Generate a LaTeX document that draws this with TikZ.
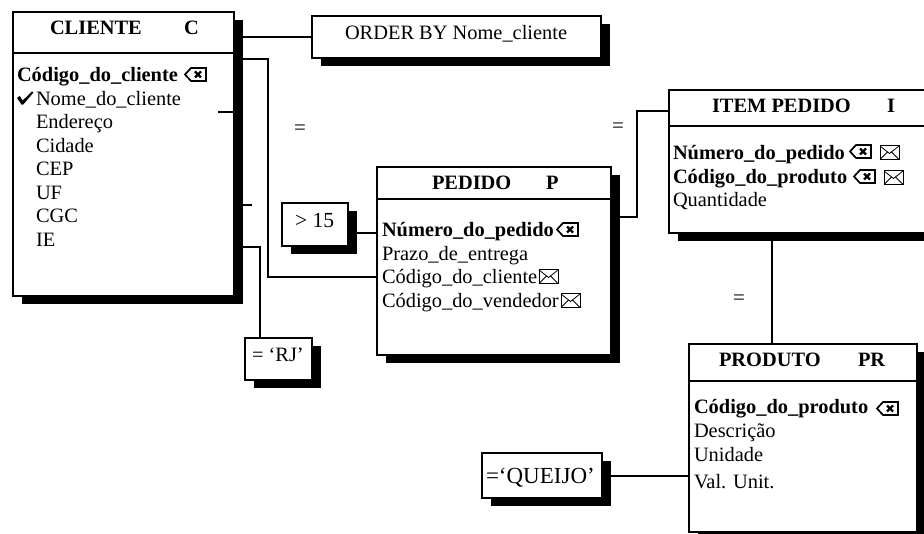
\documentclass[tikz,border=0pt]{standalone}
\usepackage{fontspec}
\setmainfont{Liberation Serif}
\usetikzlibrary{calc}
\pgfdeclarelayer{bg}
\pgfsetlayers{bg,main}
\tikzset{
  tbl/.style={draw, line width=2pt, fill=white, inner sep=0pt, outer sep=0pt, anchor=north west},
  txt/.style={anchor=base west, inner sep=0pt, outer sep=0pt, font=\fontsize{20.4}{24}\selectfont},
  btxt/.style={txt, font=\fontsize{20.4}{24}\selectfont\bfseries},
  conn/.style={line width=2pt},
  shad/.style={fill=black},
  eqlabel/.style={inner sep=0pt, font=\fontsize{21}{24}\selectfont},
  keyicon/.pic={
    \draw[line width=1.7pt, line join=miter] (0,6.5) -- (6,0) -- (21,0) -- (21,13) -- (6,13) -- cycle;
    \draw[line width=2.2pt] (10,3.5) -- (16,9.5) (10,9.5) -- (16,3.5);
  },
  envicon/.pic={
    \draw[line width=1pt] (0,0) rectangle (19,13.5);
    \draw[line width=0.8pt] (0,0) -- (9.5,7.5) -- (19,0) (0,13.5) -- (7.5,6) (19,13.5) -- (11.5,6);
  },
  checkicon/.pic={
    \fill (0,6) -- (2.8,4) -- (5.6,8.6) -- (15,-0.6) -- (16.4,0.6) -- (6.2,12.6) -- (4.6,12.6) -- cycle;
  },
}
\begin{document}
\begin{tikzpicture}[x=1pt,y=-1pt]
\useasboundingbox (0,0) rectangle (924,534);

% ---------- boxes ----------
\node[tbl, minimum width=221, minimum height=284] (cli) at (13,12) {};
\node[tbl, minimum width=289, minimum height=42] (ob) at (312,16) {};
\node[tbl, minimum width=234, minimum height=188] (ped) at (377,167) {};
\node[tbl, minimum width=275, minimum height=143] (item) at (669,90) {};
\node[tbl, minimum width=228, minimum height=188] (prod) at (689,344) {};
\node[tbl, minimum width=66, minimum height=43] (gt) at (282,203) {};
\node[tbl, minimum width=67, minimum height=42] (rj) at (245,338) {};
\node[tbl, minimum width=120, minimum height=45] (qj) at (482,453) {};

% header separators
\draw[line width=2pt] ($(cli.north west)+(0,41)$) -- ($(cli.north east)+(0,41)$);
\draw[line width=2pt] ($(ped.north west)+(0,32)$) -- ($(ped.north east)+(0,32)$);
\draw[line width=2pt] ($(item.north west)+(0,36)$) -- ($(item.north east)+(0,36)$);
\draw[line width=2pt] ($(prod.north west)+(0,37)$) -- ($(prod.north east)+(0,37)$);

% ---------- connectors and shadows (background) ----------
\begin{pgfonlayer}{bg}
  \draw[conn] (cli.east |- ob.west) -- (ob.west);
  \draw[conn] (cli.east |- 0,59) -- (268,59) -- (268,277) -- (ped.west |- 0,277);
  \draw[conn] (cli.east |- 0,247) -| ($(rj.north west)+(15,0)$);
  \draw[conn] ($(gt.east)+(0,8.5)$) -- ($(gt.east -| ped.west)+(0,8.5)$);
  \draw[conn] (ped.east |- 0,217) -| (637,111) -- (item.west |- 0,111);
  \draw[conn] (item.south -| 772,0) -- (prod.north -| 772,0);
  \draw[conn] (qj.east) -- (qj.east -| prod.west);
  \foreach \b in {cli,ob,ped,item,prod,gt,rj,qj}{
    \fill[shad] ($(\b.north west)+(9,8)$) rectangle ($(\b.south east)+(9,8)$);
  }
\end{pgfonlayer}

% stubs on the CLIENTE box
\draw[conn] (218,112) -- (cli.east |- 0,112);
\draw[conn] (cli.east |- 0,205) -- (252,205);

% ---------- equality labels ----------
\node[eqlabel] (eq1) at (300,130) {=};
\node[eqlabel] (eq2) at (618,128) {=};
\node[eqlabel] (eq3) at (739,300) {=};

% ---------- CLIENTE ----------
\node[btxt] (clih) at (50,35) {CLIENTE};
\node[btxt] (clic) at (184,35) {C};
\node[btxt] (cf1) at (17,82) {Código\_do\_cliente};
\pic at (185,68) {keyicon};
\pic at (17,92) {checkicon};
\node[txt] (cf2) at (36,105.5) {Nome\_do\_cliente};
\node[txt] (cf3) at (36,129) {Endereço};
\node[txt] (cf4) at (36,152.5) {Cidade};
\node[txt] (cf5) at (36,176) {CEP};
\node[txt] (cf6) at (36,199.5) {UF};
\node[txt] (cf7) at (36,223) {CGC};
\node[txt] (cf8) at (36,246.5) {IE};

% ---------- ORDER BY ----------
\node[txt] (obt) at (345,40) {ORDER BY Nome\_cliente};

% ---------- PEDIDO ----------
\node[btxt] (pedh) at (432,190) {PEDIDO};
\node[btxt] (pedp) at (546,190) {P};
\node[btxt] (pf1) at (382,237) {Número\_do\_pedido};
\pic at (557,223) {keyicon};
\node[txt] (pf2) at (382,260.5) {Prazo\_de\_entrega};
\node[txt] (pf3) at (382,284) {Código\_do\_cliente};
\pic at (539,270) {envicon};
\node[txt] (pf4) at (382,307.5) {Código\_do\_vendedor};
\pic at (561,294) {envicon};

% ---------- ITEM PEDIDO ----------
\node[btxt] (itemh) at (712,113) {ITEM PEDIDO};
\node[btxt] (itemi) at (887,113) {I};
\node[btxt] (if1) at (673,160) {Número\_do\_pedido};
\pic at (850,145) {keyicon};
\pic at (880,146) {envicon};
\node[btxt] (if2) at (673,183.5) {Código\_do\_produto};
\pic at (854,170) {keyicon};
\pic at (884,171) {envicon};
\node[txt] (if3) at (673,207) {Quantidade};

% ---------- PRODUTO ----------
\node[btxt] (prodh) at (719,367) {PRODUTO};
\node[btxt] (prodpr) at (858,367) {PR};
\node[btxt] (prf1) at (694,414) {Código\_do\_produto};
\pic at (877,402) {keyicon};
\node[txt] (prf2) at (694,437.5) {Descrição};
\node[txt] (prf3) at (694,461) {Unidade};
\node[txt] (prf4) at (694,489) {Val. Unit.};

% ---------- condition boxes ----------
\node[txt, font=\fontsize{21.5}{24}\selectfont] (gtt) at (295,228) {> 15};
\node[txt] (rjt) at (252,362) {= ‘RJ’};
\node[txt, font=\fontsize{23}{26}\selectfont] (qjt) at (486,483) {=‘QUEIJO’};
\end{tikzpicture}
\end{document}
